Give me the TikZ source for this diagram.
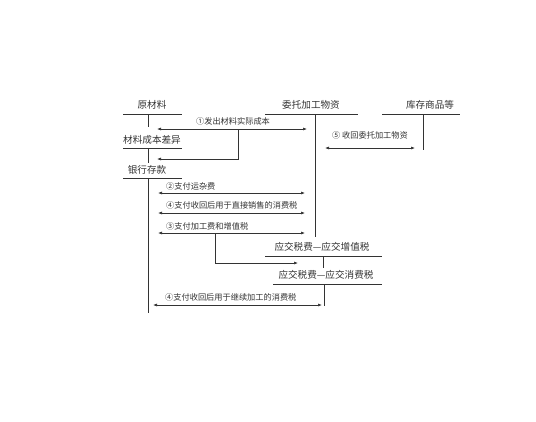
\documentclass[tikz,border=0pt]{standalone}
\usepackage{fontspec}
\setmainfont{Noto Sans CJK SC}
\usetikzlibrary{arrows.meta}
\definecolor{ink}{HTML}{333333}
\tikzset{
  acct/.style={font=\fontsize{9.6}{10}\selectfont, text=ink, inner sep=0pt, anchor=center},
  albl/.style={font=\fontsize{8.2}{9}\selectfont, text=ink, inner sep=0pt},
  tline/.style={draw=ink, line width=0.6pt},
  flow/.style={draw=ink, line width=0.6pt, {Latex[length=4pt,width=3pt]}-{Latex[length=4pt,width=3pt]}},
  oneway/.style={draw=ink, line width=0.6pt, -{Latex[length=4pt,width=3pt]}}
}
\begin{document}
\begin{tikzpicture}[x=1pt,y=-1pt]
\useasboundingbox[fill=white] (0,0) rectangle (536,421);

% accounts
\node[acct] (ycl) at (152,105) {原材料};
\coordinate (ycl-l) at (123,114); \coordinate (ycl-r) at (182,114);
\coordinate (ycl-t) at (148.5,114); \coordinate (ycl-b) at (148.5,127);
\draw[tline] (ycl-l) -- (ycl-r); \draw[tline] (ycl-t) -- (ycl-b);

\node[acct] (cy) at (152,140) {材料成本差异};
\coordinate (cy-l) at (123,148); \coordinate (cy-r) at (182,148);
\coordinate (cy-t) at (148.5,148); \coordinate (cy-b) at (148.5,163);
\draw[tline] (cy-l) -- (cy-r); \draw[tline] (cy-t) -- (cy-b);

\node[acct] (yh) at (147,170) {银行存款};
\coordinate (yh-l) at (123,178); \coordinate (yh-r) at (182,178);
\coordinate (yh-t) at (148.5,178); \coordinate (yh-b) at (148.5,313);
\draw[tline] (yh-l) -- (yh-r); \draw[tline] (yh-t) -- (yh-b);

\node[acct] (wt) at (311,105) {委托加工物资};
\coordinate (wt-l) at (265,114); \coordinate (wt-r) at (358,114);
\coordinate (wt-t) at (315,114); \coordinate (wt-b) at (315,237);
\draw[tline] (wt-l) -- (wt-r); \draw[tline] (wt-t) -- (wt-b);

\node[acct] (kc) at (430,105) {库存商品等};
\coordinate (kc-l) at (382,114); \coordinate (kc-r) at (460,114);
\coordinate (kc-t) at (423,114); \coordinate (kc-b) at (423,150);
\draw[tline] (kc-l) -- (kc-r); \draw[tline] (kc-t) -- (kc-b);

\node[acct] (zz) at (322,247) {应交税费—应交增值税};
\coordinate (zz-l) at (265,256); \coordinate (zz-r) at (382,256);
\coordinate (zz-t) at (323,256); \coordinate (zz-b) at (323,268);
\draw[tline] (zz-l) -- (zz-r); \draw[tline] (zz-t) -- (zz-b);

\node[acct] (xf) at (326,275) {应交税费—应交消费税};
\coordinate (xf-l) at (273,284); \coordinate (xf-r) at (382,284);
\coordinate (xf-t) at (324,284); \coordinate (xf-b) at (324,306);
\draw[tline] (xf-l) -- (xf-r); \draw[tline] (xf-t) -- (xf-b);

% flow 1
\coordinate (a1l) at (157,129); \coordinate (a1r) at (307,129);
\draw[flow] (a1l) -- (a1r);
\node[albl] (l1) at (233,121) {①发出材料实际成本};
\coordinate (b1s) at (238,129); \coordinate (b1e) at (157,159);
\draw[oneway] (b1s) |- (b1e);

% flow 5
\coordinate (a5l) at (325,148); \coordinate (a5r) at (415,148);
\draw[flow] (a5l) -- (a5r);
\node[albl] (l5) at (370,135) {⑤ 收回委托加工物资};

% flow 2
\coordinate (a2l) at (158,193); \coordinate (a2r) at (305,193);
\draw[flow] (a2l) -- (a2r);
\node[albl, anchor=west] (l2) at (166,186) {②支付运杂费};

% flow 4 (direct sale)
\coordinate (a4l) at (158,213); \coordinate (a4r) at (305,213);
\draw[flow] (a4l) -- (a4r);
\node[albl, anchor=west] (l4) at (166,205) {④支付收回后用于直接销售的消费税};

% flow 3
\coordinate (a3l) at (158,233); \coordinate (a3r) at (305,233);
\draw[flow] (a3l) -- (a3r);
\node[albl, anchor=west] (l3) at (166,226) {③支付加工费和增值税};
\coordinate (b3s) at (215,233); \coordinate (b3e) at (298,263);
\draw[oneway] (b3s) |- (b3e);

% flow 4 (further processing)
\coordinate (a6l) at (153,305); \coordinate (a6r) at (322,305);
\draw[flow] (a6l) -- (a6r);
\node[albl, anchor=west] (l6) at (165,297) {④支付收回后用于继续加工的消费税};
\end{tikzpicture}
\end{document}
